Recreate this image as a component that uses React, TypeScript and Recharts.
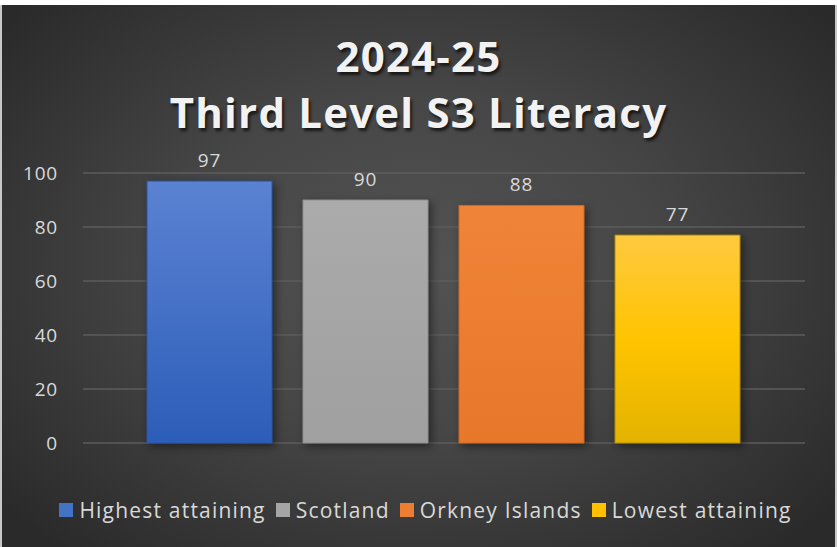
import React from 'react'
import { BarChart, Bar, XAxis, YAxis, CartesianGrid, Legend, LabelList } from 'recharts'

const SERIES = ['Highest attaining', 'Scotland', 'Orkney Islands', 'Lowest attaining']
const VALUES = [97, 90, 88, 77]
const Y_TICKS = [0, 20, 40, 60, 80, 100]
const TITLE = ['2024-25', 'Third Level S3 Literacy']

// top / bottom gradient stops + outline per series
const FILLS = [
  { id: 'gBlue', top: '#5b82d2', mid: '#4470c6', bottom: '#2c5db8', stroke: '#2a56a8', swatch: '#4472c4' },
  { id: 'gGray', top: '#ababab', mid: '#a5a5a5', bottom: '#a0a0a0', stroke: '#8f8f8f', swatch: '#a5a5a5' },
  { id: 'gOrange', top: '#ef8438', mid: '#ed7d31', bottom: '#e7772b', stroke: '#d26a24', swatch: '#ed7d31' },
  { id: 'gYellow', top: '#ffc940', mid: '#ffc400', bottom: '#e3b300', stroke: '#b38f00', swatch: '#ffc000' },
]

const FONT = '"Open Sans", sans-serif'
const TEXT = '#d9d9d9'

const data = [
  SERIES.reduce<Record<string, string | number>>(
    (row, s, i) => {
      row[s] = VALUES[i]
      return row
    },
    { cat: 'S3' },
  ),
]

function LegendContent() {
  return (
    <div
      style={{
        display: 'flex',
        justifyContent: 'center',
        alignItems: 'center',
        height: 24,
        gap: 10,
        fontFamily: FONT,
        fontSize: 21,
        letterSpacing: 1.2,
        color: TEXT,
      }}
    >
      {SERIES.map((s, i) => (
        <div key={s} style={{ display: 'flex', alignItems: 'center', gap: 6 }}>
          <span style={{ width: 14, height: 14, background: FILLS[i].swatch, display: 'inline-block' }} />
          <span>{s}</span>
        </div>
      ))}
    </div>
  )
}

export default function App() {
  return (
    <div style={{ position: 'relative', width: 837, height: 547, background: '#fff', overflow: 'hidden' }}>
      <style>{'body{margin:0}'}</style>
      <div
        style={{
          position: 'absolute',
          left: 0,
          top: 5,
          width: 837,
          height: 542,
          boxSizing: 'border-box',
          borderLeft: '2px solid #c8c8c8',
          borderRight: '2px solid #c8c8c8',
          background:
            'radial-gradient(ellipse 65% 70% at 50% 48%, #535353 0%, #464646 45%, #2a2a2a 100%)',
        }}
      />
      <div
        style={{
          position: 'absolute',
          left: 0,
          top: 28,
          width: 837,
          textAlign: 'center',
          fontFamily: FONT,
          fontWeight: 700,
          fontSize: 42,
          letterSpacing: 1.2,
          lineHeight: '56px',
          color: '#f2f2f2',
          textShadow: '2px 3px 3px rgba(0,0,0,0.65)',
        }}
      >
        {TITLE.map((t) => (
          <div key={t}>{t}</div>
        ))}
      </div>
      <div style={{ position: 'absolute', left: 0, top: 0 }}>
        <BarChart
          width={837}
          height={547}
          data={data}
          margin={{ top: 173, right: 32, bottom: 80, left: 0 }}
          barCategoryGap={64}
          barGap={31}
        >
          <defs>
            {FILLS.map((f) => (
              <linearGradient key={f.id} id={f.id} x1="0" y1="0" x2="0" y2="1">
                <stop offset="0%" stopColor={f.top} />
                <stop offset="50%" stopColor={f.mid} />
                <stop offset="100%" stopColor={f.bottom} />
              </linearGradient>
            ))}
          </defs>
          <CartesianGrid vertical={false} stroke="#5c5c5c" strokeWidth={1.5} />
          <XAxis dataKey="cat" hide />
          <YAxis
            width={83}
            domain={[0, 100]}
            ticks={Y_TICKS}
            axisLine={false}
            tickLine={false}
            tickSize={0}
            tickMargin={25}
            tick={{ fill: TEXT, fontSize: 19, fontFamily: FONT, letterSpacing: 0.8 }}
          />
          <Legend
            verticalAlign="bottom"
            content={<LegendContent />}
            wrapperStyle={{ top: 498, bottom: 'auto', left: 7, width: 837, height: 24 }}
          />
          {SERIES.map((s, i) => (
            <Bar
              key={s}
              dataKey={s}
              fill={`url(#${FILLS[i].id})`}
              stroke={FILLS[i].stroke}
              strokeWidth={1}
              isAnimationActive={false}
              style={{ filter: 'drop-shadow(3px 3px 4px rgba(0,0,0,0.45))' }}
            >
              <LabelList
                dataKey={s}
                position="top"
                offset={14}
                fill={TEXT}
                fontSize={19}
                fontFamily={FONT}
                letterSpacing={0.8}
              />
            </Bar>
          ))}
        </BarChart>
      </div>
    </div>
  )
}
